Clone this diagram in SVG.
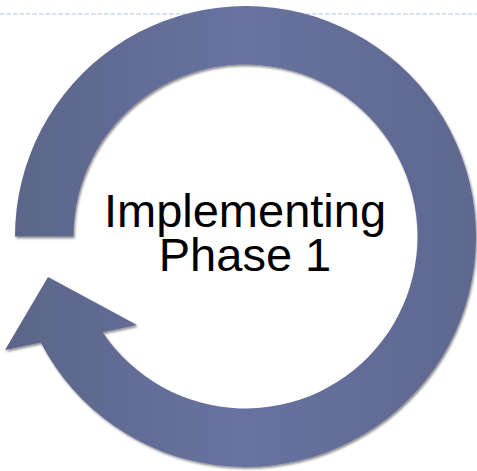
<svg xmlns="http://www.w3.org/2000/svg" width="477" height="471" viewBox="0 0 477 471">
  <defs>
    <linearGradient id="ringFill" x1="0" y1="0" x2="1" y2="0">
      <stop offset="0" stop-color="#5b6588"/>
      <stop offset="0.5" stop-color="#6872a0"/>
      <stop offset="1" stop-color="#5e688f"/>
    </linearGradient>
    <filter id="shadow" x="-10%" y="-10%" width="120%" height="120%">
      <feDropShadow dx="1.2" dy="1.8" stdDeviation="1.3" flood-color="#000" flood-opacity="0.45"/>
    </filter>
  </defs>
  <style>
    .guide { stroke: #cdd8e3; stroke-width: 1.3; stroke-dasharray: 4.5 2; fill: none; }
    .label { font-family: "Liberation Sans", Arial, sans-serif; font-size: 47px; fill: #000; text-anchor: middle; }
  </style>
  <rect width="477" height="471" fill="#fff"/>
  <line class="guide" x1="0" y1="14" x2="477" y2="14"/>
  <g id="cycle-arrow">
    <path filter="url(#shadow)" fill="url(#ringFill)"
      d="M 15 236.5 A 230.5 230.5 0 1 1 40.8 342.5 L 5 350 L 48 277 L 137 325 L 102.6 332.2 A 172 172 0 1 0 73.5 236.5 Z"/>
  </g>
  <g id="center-label">
    <text class="label" x="245" y="227">Implementing</text>
    <text class="label" x="245" y="271">Phase 1</text>
  </g>
</svg>
